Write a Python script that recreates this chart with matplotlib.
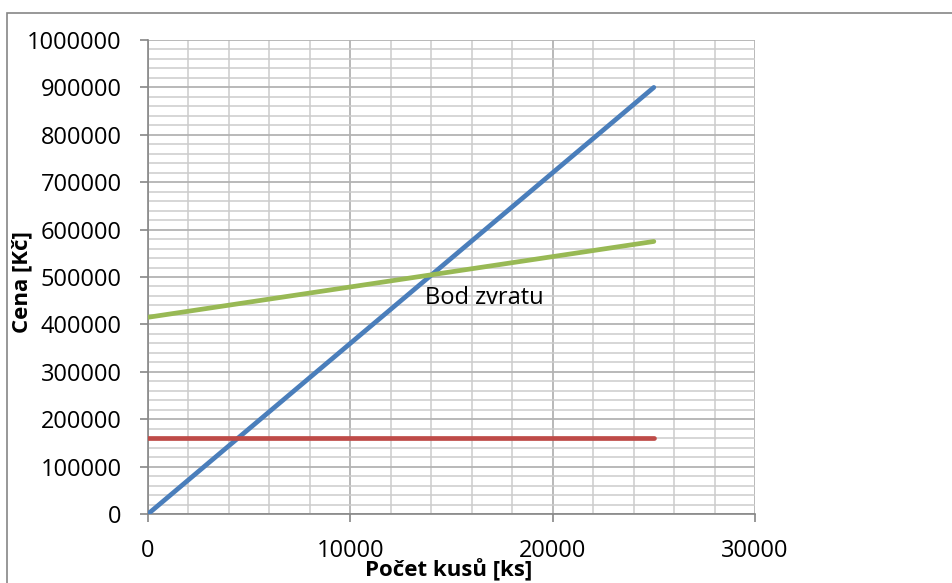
import matplotlib.pyplot as plt
from matplotlib.patches import Rectangle
from matplotlib.ticker import MultipleLocator, FormatStrFormatter

plt.rcParams['font.family'] = ['Open Sans', 'DejaVu Sans']

# data
kusy = [0, 5000, 10000, 15000, 20000, 25000]
trzby = [0, 180000, 360000, 540000, 720000, 900000]
fixni = [160000, 160000, 160000, 160000, 160000, 160000]
celkove = [415000, 447000, 479000, 511000, 543000, 575000]

fig = plt.figure(figsize=(9.53, 5.83), dpi=100)
ax = fig.add_axes([148 / 953, 1 - 514 / 583, 607 / 953, 474 / 583])

# okraj grafu (orezany vpravo a dole)
fig.patches.append(Rectangle((7 / 953, -0.2), 1.2, 1.2 - 13 / 583,
                             transform=fig.transFigure, fill=False,
                             edgecolor='#868686', linewidth=1.2))

ax.plot(kusy, trzby, color='#4a7ebb', linewidth=3.4, solid_capstyle='round', zorder=3)
ax.plot(kusy, fixni, color='#be4b48', linewidth=3.4, solid_capstyle='round', zorder=3)
ax.plot(kusy, celkove, color='#98b954', linewidth=3.4, solid_capstyle='round', zorder=3)

ax.text(13700, 455000, 'Bod zvratu', fontsize=17, va='center', ha='left', zorder=4)

ax.set_xlim(0, 30000)
ax.set_ylim(0, 1000000)
ax.xaxis.set_major_locator(MultipleLocator(10000))
ax.xaxis.set_minor_locator(MultipleLocator(2000))
ax.yaxis.set_major_locator(MultipleLocator(100000))
ax.yaxis.set_minor_locator(MultipleLocator(20000))
ax.xaxis.set_major_formatter(FormatStrFormatter('%d'))
ax.yaxis.set_major_formatter(FormatStrFormatter('%d'))

ax.grid(which='major', color='#b3b3b3', linewidth=1.3)
ax.grid(which='minor', color='#cccccc', linewidth=1.1)
ax.set_axisbelow(True)

for s in ['top', 'right']:
    ax.spines[s].set_visible(False)
for s in ['left', 'bottom']:
    ax.spines[s].set_color('#868686')
    ax.spines[s].set_linewidth(1.2)

ax.tick_params(which='major', direction='out', length=6, color='#868686',
               width=1.2, labelsize=17)
ax.tick_params(axis='y', which='major', pad=13)
ax.tick_params(axis='x', which='major', pad=12)
ax.tick_params(which='minor', length=0)

ax.set_xlabel('Počet kusů [ks]', fontsize=16, fontweight='bold')
ax.set_ylabel('Cena [Kč]', fontsize=16, fontweight='bold')
ax.xaxis.set_label_coords(0.495, -0.095)
ax.yaxis.set_label_coords(-0.19, 0.49)

fig.savefig('out.png', dpi=100)
